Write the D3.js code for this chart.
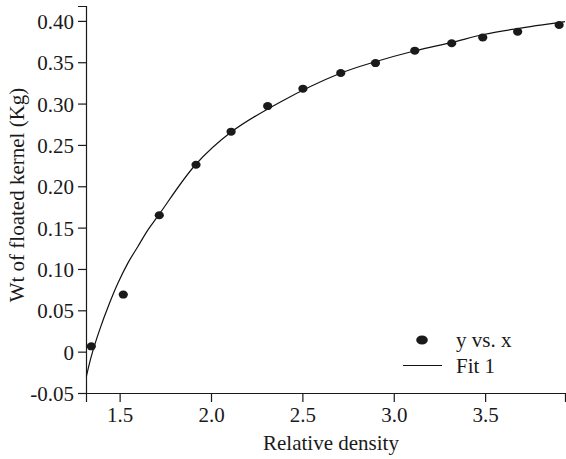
<!doctype html>
<html lang="en">
<head>
  <meta charset="utf-8">
  <style>
    body { margin: 0; background: #fff; }
  </style>
</head>
<body>
  <div id="chart"></div>
  <script src="https://d3js.org/d3.v7.min.js"></script>
  <script>
  // measured points (y vs. x)
  var densityX = [1.345, 1.52, 1.717, 1.918, 2.11, 2.31, 2.503, 2.71, 2.90, 3.115, 3.317, 3.487, 3.678, 3.905];
  var weightY  = [0.0064, 0.069, 0.165, 0.226, 0.266, 0.297, 0.318, 0.337, 0.349, 0.364, 0.373, 0.380, 0.387, 0.395];

  // Fit 1 curve
  var fitX = [1.318, 1.345, 1.391, 1.445, 1.491, 1.545, 1.600, 1.655, 1.713, 1.915, 2.107, 2.380, 2.708, 2.899, 3.117, 3.318, 3.491, 3.673, 3.937];
  var fitY = [-0.030, -0.0057, 0.0266, 0.0588, 0.083, 0.1071, 0.1272, 0.1473, 0.165, 0.226, 0.265, 0.302, 0.3366, 0.3506, 0.3639, 0.374, 0.3835, 0.3905, 0.399];

  var xTicks = [1.5, 2.0, 2.5, 3.0, 3.5];
  var yTicks = [-0.05, 0, 0.05, 0.10, 0.15, 0.20, 0.25, 0.30, 0.35, 0.40];

  var serif = '"Liberation Serif"';
  var fs = "21px";
  var ink = "#1a1a1a";

  var width = 566, height = 459;
  var svg = d3.select("#chart").append("svg")
      .attr("width", width)
      .attr("height", height);

  var x = d3.scaleLinear().domain([1.316, 3.937]).range([86, 565]);
  var y = d3.scaleLinear().domain([-0.05, 0.418]).range([393, 6]);

  // y axis
  var yAxis = svg.append("g")
      .attr("transform", "translate(86,0)")
      .call(d3.axisLeft(y).tickValues(yTicks).tickSize(8).tickPadding(4)
        .tickFormat(function(d) { return d === 0 ? "0" : (d < 0 ? "-" + d3.format(".2f")(-d) : d3.format(".2f")(d)); }));
  yAxis.attr("font-family", null).attr("font-size", null);
  yAxis.selectAll("text")
      .style("font-family", serif).style("font-size", fs)
      .attr("fill", ink).attr("dy", "0.36em");

  // x axis
  var xAxis = svg.append("g")
      .attr("transform", "translate(0,393)")
      .call(d3.axisBottom(x).tickValues(xTicks).tickSize(9).tickPadding(5)
        .tickFormat(d3.format(".1f")));
  xAxis.attr("font-family", null).attr("font-size", null);
  xAxis.selectAll("text")
      .style("font-family", serif).style("font-size", fs)
      .attr("fill", ink);

  svg.selectAll(".domain, .tick line").attr("stroke", ink).attr("stroke-width", 1.2);

  // axis titles
  svg.append("text")
      .attr("x", 331)
      .attr("y", 450)
      .attr("text-anchor", "middle")
      .attr("fill", ink)
      .style("font-family", serif)
      .style("font-size", fs)
      .text("Relative density");

  svg.append("text")
      .attr("transform", "translate(24,195) rotate(-90)")
      .attr("text-anchor", "middle")
      .attr("fill", ink)
      .style("font-family", serif)
      .style("font-size", fs)
      .text("Wt of floated kernel (Kg)");

  // fit line
  var line = d3.line()
      .x(function(d) { return x(d[0]); })
      .y(function(d) { return y(d[1]); })
      .curve(d3.curveCatmullRom.alpha(0.5));

  svg.append("path")
      .datum(d3.zip(fitX, fitY))
      .attr("d", line)
      .attr("fill", "none")
      .attr("stroke", "#111")
      .attr("stroke-width", 1.2);

  // points
  svg.selectAll(".pt")
      .data(d3.zip(densityX, weightY))
      .enter().append("ellipse")
      .attr("class", "pt")
      .attr("cx", function(d) { return x(d[0]); })
      .attr("cy", function(d) { return y(d[1]); })
      .attr("rx", 4.6)
      .attr("ry", 4)
      .attr("fill", ink);

  // legend
  var legend = svg.append("g");
  legend.append("ellipse")
      .attr("cx", 422).attr("cy", 340).attr("rx", 5.8).attr("ry", 4.6)
      .attr("fill", ink);
  legend.append("text")
      .attr("x", 456).attr("y", 347)
      .attr("fill", ink)
      .style("font-family", serif)
      .style("font-size", fs)
      .text("y vs. x");
  legend.append("line")
      .attr("x1", 403).attr("x2", 442).attr("y1", 365.5).attr("y2", 365.5)
      .attr("stroke", "#111").attr("stroke-width", 1.2);
  legend.append("text")
      .attr("x", 456).attr("y", 373)
      .attr("fill", ink)
      .style("font-family", serif)
      .style("font-size", fs)
      .text("Fit 1");
  </script>
</body>
</html>
